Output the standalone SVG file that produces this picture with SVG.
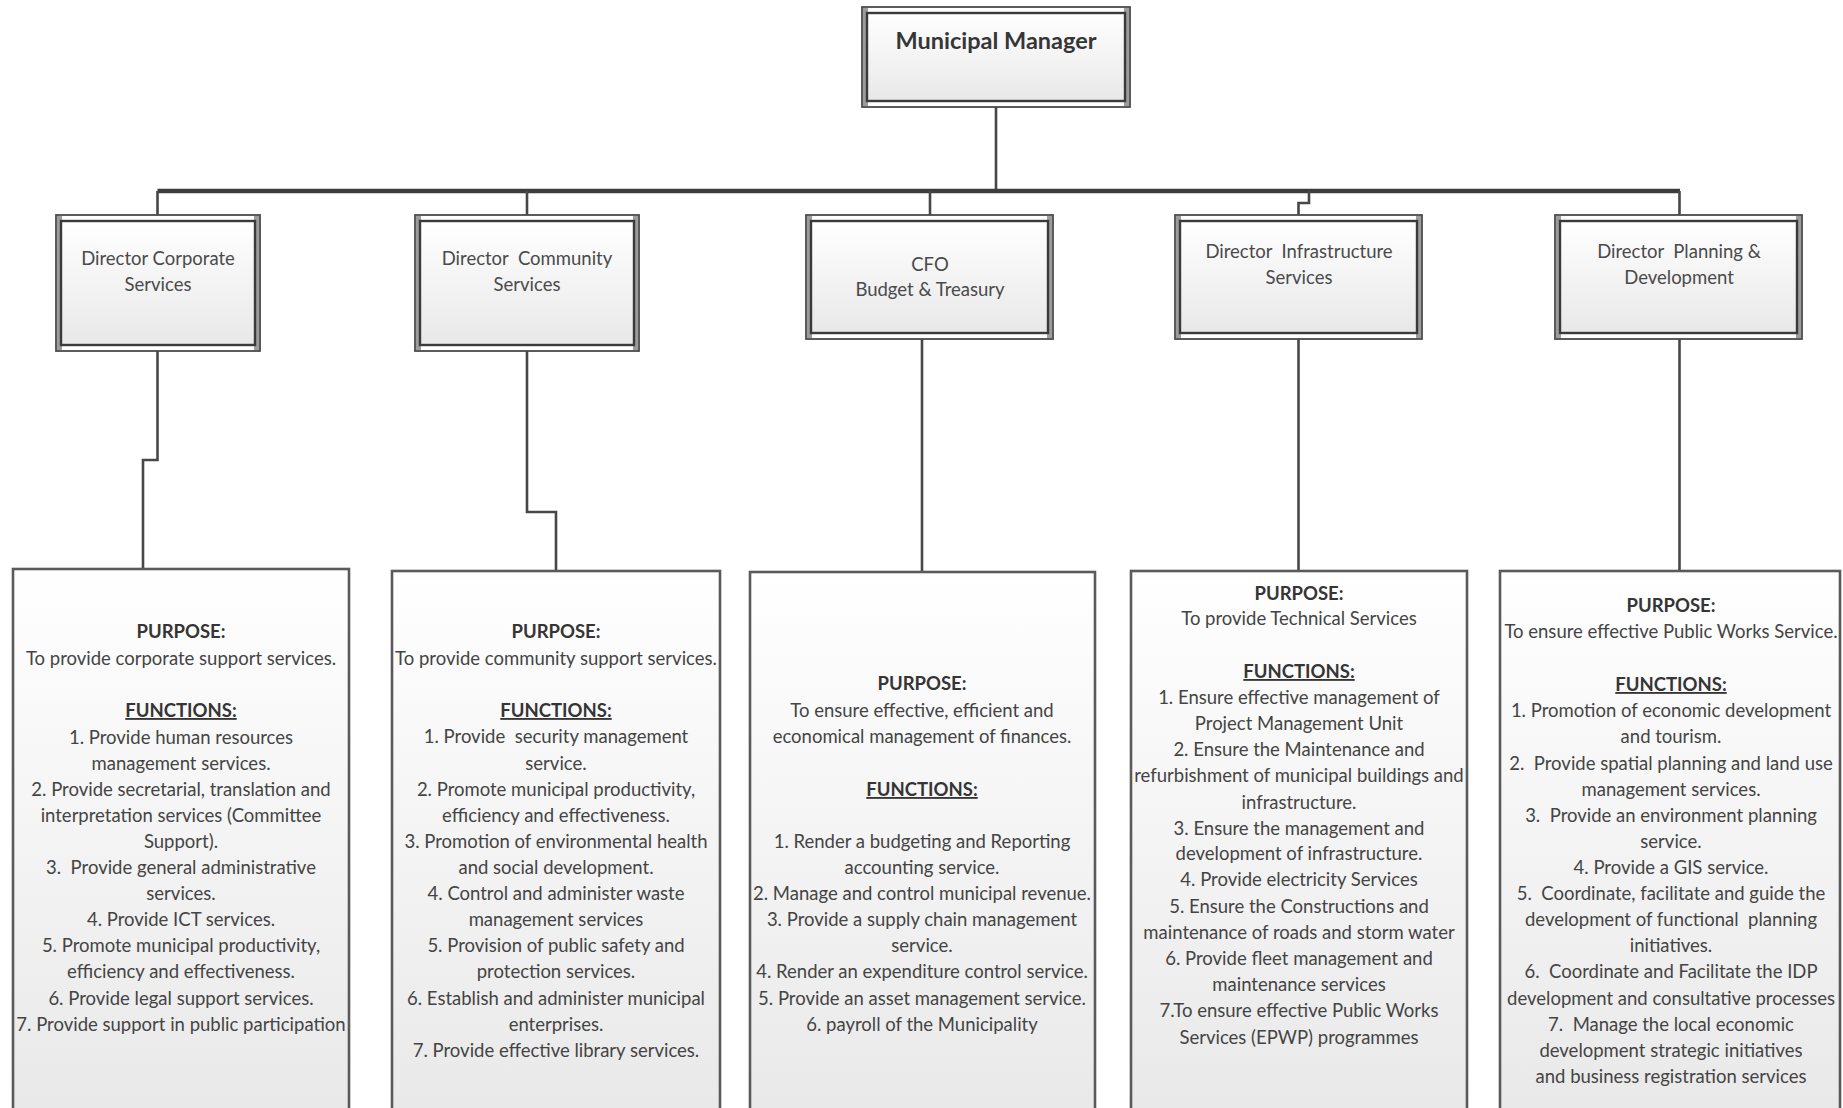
<svg xmlns="http://www.w3.org/2000/svg" width="1843" height="1108" viewBox="0 0 1843 1108">
  <defs>
    <linearGradient id="fillGrad" x1="0" y1="0" x2="0" y2="1">
      <stop offset="0" stop-color="#ffffff"/>
      <stop offset="1" stop-color="#e8e8e8"/>
    </linearGradient>
    <style>
      text { font-family: Lato, "Liberation Sans", sans-serif; white-space: pre; }
      .outer { fill: #ffffff; stroke: #4a4a4a; stroke-width: 1.8; }
      .band { fill: #9c9c9c; }
      .inner { fill: url(#fillGrad); stroke: #3a3a3a; stroke-width: 2.4; }
      .panel { fill: url(#fillGrad); stroke: #5a5a5a; stroke-width: 2.6; }
      .title { font-size: 23.5px; font-weight: bold; fill: #363636; text-anchor: middle; }
      .dir { font-size: 18.5px; fill: #4a4a4a; text-anchor: middle; }
      .body { font-size: 18.5px; fill: #444444; text-anchor: middle; }
      .head { font-size: 18.5px; font-weight: bold; fill: #353535; text-anchor: middle; }
      .ul { text-decoration: underline; }
      .wire { fill: none; stroke: #474747; stroke-width: 2.6; }
      .bus { fill: none; stroke: #3d3d3d; stroke-width: 4.5; }
    </style>
  </defs>

  <rect width="1843" height="1108" fill="#ffffff"/>

  <!-- connectors -->
  <g id="connectors">
    <path class="wire" d="M996 107 V191"/>
    <path class="bus" d="M157.5 191 H1680"/>
    <path class="wire" d="M157.5 191 V215"/>
    <path class="wire" d="M527 191 V215"/>
    <path class="wire" d="M930 191 V215"/>
    <path class="wire" d="M1309 191 V203 H1298.5 V215"/>
    <path class="wire" d="M1679.5 191 V215"/>
    <path class="wire" d="M157.5 351 V460 H143 V569"/>
    <path class="wire" d="M527 351 V512 H556 V571"/>
    <path class="wire" d="M922 339 V572"/>
    <path class="wire" d="M1298.5 339 V571"/>
    <path class="wire" d="M1679.5 339 V571"/>
  </g>

  <!-- top node -->
  <g id="municipal-manager">
    <rect class="outer" x="862" y="7" width="268" height="100"/>
    <rect class="band" x="863" y="8" width="5" height="98"/>
    <rect class="band" x="1124" y="8" width="5" height="98"/>
    <rect class="inner" x="867" y="13" width="258" height="88"/>
    <text class="title" x="996" y="49">Municipal Manager</text>
  </g>

  <!-- directors -->
  <g id="director-corporate">
    <rect class="outer" x="56" y="215" width="204" height="136"/>
    <rect class="band" x="57" y="216" width="5" height="134"/>
    <rect class="band" x="254" y="216" width="5" height="134"/>
    <rect class="inner" x="61" y="221" width="194" height="124"/>
    <text class="dir" x="158" y="265">Director Corporate</text>
    <text class="dir" x="158" y="291">Services</text>
  </g>

  <g id="director-community">
    <rect class="outer" x="415" y="215" width="224" height="136"/>
    <rect class="band" x="416" y="216" width="5" height="134"/>
    <rect class="band" x="633" y="216" width="5" height="134"/>
    <rect class="inner" x="420" y="221" width="214" height="124"/>
    <text class="dir" x="527" y="265">Director  Community</text>
    <text class="dir" x="527" y="291">Services</text>
  </g>

  <g id="director-cfo">
    <rect class="outer" x="806" y="215" width="247" height="124"/>
    <rect class="band" x="807" y="216" width="5" height="122"/>
    <rect class="band" x="1047" y="216" width="5" height="122"/>
    <rect class="inner" x="811" y="221" width="237" height="112"/>
    <text class="dir" x="930" y="271">CFO</text>
    <text class="dir" x="930" y="296">Budget &amp; Treasury</text>
  </g>

  <g id="director-infrastructure">
    <rect class="outer" x="1175" y="215" width="247" height="124"/>
    <rect class="band" x="1176" y="216" width="5" height="122"/>
    <rect class="band" x="1416" y="216" width="5" height="122"/>
    <rect class="inner" x="1180" y="221" width="237" height="112"/>
    <text class="dir" x="1299" y="258">Director  Infrastructure</text>
    <text class="dir" x="1299" y="284">Services</text>
  </g>

  <g id="director-planning">
    <rect class="outer" x="1555" y="215" width="247" height="124"/>
    <rect class="band" x="1556" y="216" width="5" height="122"/>
    <rect class="band" x="1796" y="216" width="5" height="122"/>
    <rect class="inner" x="1560" y="221" width="237" height="112"/>
    <text class="dir" x="1679" y="258">Director  Planning &amp;</text>
    <text class="dir" x="1679" y="284">Development</text>
  </g>

  <!-- purpose / function panels -->
  <g id="panel-corporate">
    <rect class="panel" x="13" y="569" width="336" height="560"/>
    <text class="head" x="181" y="638">PURPOSE:</text>
    <text class="body" x="181" y="665">To provide corporate support services.</text>
    <text class="head ul" x="181" y="717">FUNCTIONS:</text>
    <text class="body" x="181" y="744">1. Provide human resources</text>
    <text class="body" x="181" y="770">management services.</text>
    <text class="body" x="181" y="796">2. Provide secretarial, translation and</text>
    <text class="body" x="181" y="822">interpretation services (Committee</text>
    <text class="body" x="181" y="848">Support).</text>
    <text class="body" x="181" y="874">3.  Provide general administrative</text>
    <text class="body" x="181" y="900">services.</text>
    <text class="body" x="181" y="926">4. Provide ICT services.</text>
    <text class="body" x="181" y="952">5. Promote municipal productivity,</text>
    <text class="body" x="181" y="978">efficiency and effectiveness.</text>
    <text class="body" x="181" y="1005">6. Provide legal support services.</text>
    <text class="body" x="181" y="1031">7. Provide support in public participation</text>
  </g>

  <g id="panel-community">
    <rect class="panel" x="392" y="571" width="328" height="560"/>
    <text class="head" x="556" y="638">PURPOSE:</text>
    <text class="body" x="556" y="665">To provide community support services.</text>
    <text class="head ul" x="556" y="717">FUNCTIONS:</text>
    <text class="body" x="556" y="743">1. Provide  security management</text>
    <text class="body" x="556" y="770">service.</text>
    <text class="body" x="556" y="796">2. Promote municipal productivity,</text>
    <text class="body" x="556" y="822">efficiency and effectiveness.</text>
    <text class="body" x="556" y="848">3. Promotion of environmental health</text>
    <text class="body" x="556" y="874">and social development.</text>
    <text class="body" x="556" y="900">4. Control and administer waste</text>
    <text class="body" x="556" y="926">management services</text>
    <text class="body" x="556" y="952">5. Provision of public safety and</text>
    <text class="body" x="556" y="978">protection services.</text>
    <text class="body" x="556" y="1005">6. Establish and administer municipal</text>
    <text class="body" x="556" y="1031">enterprises.</text>
    <text class="body" x="556" y="1057">7. Provide effective library services.</text>
  </g>

  <g id="panel-cfo">
    <rect class="panel" x="750" y="572" width="345" height="560"/>
    <text class="head" x="922" y="690">PURPOSE:</text>
    <text class="body" x="922" y="717">To ensure effective, efficient and</text>
    <text class="body" x="922" y="743">economical management of finances.</text>
    <text class="head ul" x="922" y="796">FUNCTIONS:</text>
    <text class="body" x="922" y="848">1. Render a budgeting and Reporting</text>
    <text class="body" x="922" y="874">accounting service.</text>
    <text class="body" x="922" y="900">2. Manage and control municipal revenue.</text>
    <text class="body" x="922" y="926">3. Provide a supply chain management</text>
    <text class="body" x="922" y="952">service.</text>
    <text class="body" x="922" y="978">4. Render an expenditure control service.</text>
    <text class="body" x="922" y="1005">5. Provide an asset management service.</text>
    <text class="body" x="922" y="1031">6. payroll of the Municipality</text>
  </g>

  <g id="panel-infrastructure">
    <rect class="panel" x="1131" y="571" width="336" height="560"/>
    <text class="head" x="1299" y="600">PURPOSE:</text>
    <text class="body" x="1299" y="625">To provide Technical Services</text>
    <text class="head ul" x="1299" y="678">FUNCTIONS:</text>
    <text class="body" x="1299" y="704">1. Ensure effective management of</text>
    <text class="body" x="1299" y="730">Project Management Unit</text>
    <text class="body" x="1299" y="756">2. Ensure the Maintenance and</text>
    <text class="body" x="1299" y="782">refurbishment of municipal buildings and</text>
    <text class="body" x="1299" y="809">infrastructure.</text>
    <text class="body" x="1299" y="835">3. Ensure the management and</text>
    <text class="body" x="1299" y="860">development of infrastructure.</text>
    <text class="body" x="1299" y="886">4. Provide electricity Services</text>
    <text class="body" x="1299" y="913">5. Ensure the Constructions and</text>
    <text class="body" x="1299" y="939">maintenance of roads and storm water</text>
    <text class="body" x="1299" y="965">6. Provide fleet management and</text>
    <text class="body" x="1299" y="991">maintenance services</text>
    <text class="body" x="1299" y="1017">7.To ensure effective Public Works</text>
    <text class="body" x="1299" y="1044">Services (EPWP) programmes</text>
  </g>

  <g id="panel-planning">
    <rect class="panel" x="1500" y="571" width="340" height="560"/>
    <text class="head" x="1671" y="612">PURPOSE:</text>
    <text class="body" x="1671" y="638">To ensure effective Public Works Service.</text>
    <text class="head ul" x="1671" y="691">FUNCTIONS:</text>
    <text class="body" x="1671" y="717">1. Promotion of economic development</text>
    <text class="body" x="1671" y="743">and tourism.</text>
    <text class="body" x="1671" y="770">2.  Provide spatial planning and land use</text>
    <text class="body" x="1671" y="796">management services.</text>
    <text class="body" x="1671" y="822">3.  Provide an environment planning</text>
    <text class="body" x="1671" y="848">service.</text>
    <text class="body" x="1671" y="874">4. Provide a GIS service.</text>
    <text class="body" x="1671" y="900">5.  Coordinate, facilitate and guide the</text>
    <text class="body" x="1671" y="926">development of functional  planning</text>
    <text class="body" x="1671" y="952">initiatives.</text>
    <text class="body" x="1671" y="978">6.  Coordinate and Facilitate the IDP</text>
    <text class="body" x="1671" y="1005">development and consultative processes</text>
    <text class="body" x="1671" y="1031">7.  Manage the local economic</text>
    <text class="body" x="1671" y="1057">development strategic initiatives</text>
    <text class="body" x="1671" y="1083">and business registration services</text>
  </g>
</svg>
